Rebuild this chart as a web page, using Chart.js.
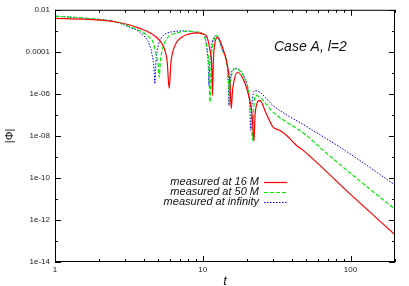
<!DOCTYPE html>
<html lang="en">
<head>
    <meta charset="UTF-8">
    <title>Case A, l=2</title>
    <script src="https://cdn.jsdelivr.net/npm/chart.js"></script>
    <style>
        body { margin: 0; background: #fff; }
    </style>
</head>
<body>

<canvas id="phiChart" width="409" height="286"></canvas>

<script>
    // values
    const t16 = [1, 1.6, 2.54, 3.21, 3.75, 4.38, 5.12, 5.5, 5.75, 5.92, 6.1, 6.3, 6.64, 7.2, 7.76, 9.07, 10.0, 10.6, 11.2, 11.5, 11.63, 11.8, 12.1, 12.6, 13.8, 14.9, 15.3, 15.6, 15.9, 16.3, 17.2, 19.2, 20.8, 21.6, 22.2, 22.6, 23.3, 24.3, 26.9, 29.9, 33.1, 36.8, 43, 47.6, 100, 200];
    const phi16 = [3.95e-3, 3.55e-3, 2.7e-3, 1.9e-3, 1.3e-3, 8.1e-4, 3.4e-4, 1.4e-4, 3.2e-5, 1.8e-6, 3.5e-5, 1.15e-4, 2.8e-4, 4.9e-4, 6.5e-4, 7.9e-4, 7.2e-4, 5.6e-4, 1.15e-4, 2.2e-5, 8.4e-7, 3.8e-5, 2.8e-4, 4.9e-4, 1.2e-4, 1.3e-5, 2.5e-6, 2.0e-7, 1.45e-6, 4.4e-6, 1.07e-5, 3.5e-6, 4.9e-7, 9.5e-8, 5.5e-9, 9.5e-8, 3.5e-7, 4.9e-7, 1.14e-7, 2.64e-8, 1.84e-8, 1.07e-8, 3.6e-9, 2.1e-9, 1.66e-11, 1.95e-13];

    const t50 = [1, 1.6, 2.54, 3.21, 3.75, 4.38, 4.62, 4.85, 5.0, 5.07, 5.17, 5.35, 5.69, 6.1, 6.64, 7.4, 8.17, 9.2, 10.05, 10.7, 11.0, 11.2, 11.4, 11.8, 12.4, 13.6, 14.6, 15.0, 15.2, 15.4, 15.8, 16.7, 19.2, 20.5, 21.2, 21.7, 22.1, 22.7, 24.3, 29.9, 50.2, 65, 100, 200];
    const phi50 = [5.0e-3, 4.0e-3, 2.7e-3, 1.6e-3, 1.0e-3, 4.7e-4, 2.8e-4, 6.6e-5, 2.2e-5, 6.2e-6, 3.8e-5, 1.4e-4, 4.1e-4, 6.3e-4, 8.0e-4, 9.3e-4, 9.5e-4, 8.7e-4, 7.0e-4, 1.4e-4, 2.2e-5, 4.1e-7, 3.1e-5, 2.7e-4, 5.9e-4, 1.15e-4, 2.5e-5, 2.5e-6, 2.8e-7, 2.5e-6, 1.0e-5, 1.6e-5, 5.4e-6, 1.2e-6, 1.6e-7, 6.2e-9, 1.6e-7, 8.4e-7, 7.0e-7, 1.36e-7, 1.07e-8, 2.1e-9, 1.66e-10, 3.2e-12];

    const tInf = [1, 1.6, 2.54, 3.21, 3.75, 4.38, 4.55, 4.68, 4.74, 4.82, 5.0, 5.39, 5.8, 6.3, 7.2, 8.17, 9.2, 10.3, 10.7, 10.9, 11.0, 11.15, 11.6, 12.4, 13.6, 14.6, 14.9, 15.06, 15.25, 15.6, 16.7, 19.2, 20.3, 20.8, 21.1, 21.5, 22.5, 24.3, 29.9, 50.2, 91, 200];
    const phiInf = [5.0e-3, 4.0e-3, 2.7e-3, 1.45e-3, 8.4e-4, 2.0e-4, 6.6e-5, 1.6e-5, 3.0e-6, 3.1e-5, 2.0e-4, 5.9e-4, 8.0e-4, 9.1e-4, 9.9e-4, 9.6e-4, 8.2e-4, 5.9e-4, 1.15e-4, 2.2e-5, 2.5e-6, 3.1e-5, 2.8e-4, 5.9e-4, 1.15e-4, 2.5e-5, 2.5e-6, 2.8e-7, 2.5e-6, 1.0e-5, 1.6e-5, 6.0e-6, 1.45e-6, 2.8e-7, 1.84e-8, 2.8e-7, 1.45e-6, 1.2e-6, 2.8e-7, 2.85e-8, 2.1e-9, 4.6e-11];

    const seriesLabels = ['measured at 16 M', 'measured at 50 M', 'measured at infinity'];

    const xTickValues = [1, 10, 100];
    const xTickLabels = ['1', '10', '100'];
    const yTickValues = [1e-14, 1e-12, 1e-10, 1e-8, 1e-6, 1e-4, 1e-2];
    const yTickLabels = ['1e-14', '1e-12', '1e-10', '1e-08', '1e-06', '0.0001', '0.01'];

    const FONT = '"Liberation Sans", Arial, sans-serif';

    function toPoints(xs, ys) {
        return xs.map((x, i) => ({ x: x, y: ys[i] }));
    }

    function labelFor(values, labels, v) {
        const i = values.findIndex(tv => Math.abs(Math.log10(tv) - Math.log10(v)) < 1e-6);
        return i >= 0 ? labels[i] : '';
    }

    // gnuplot-like frame, inward ticks, key and label
    const decorPlugin = {
        id: 'decor',
        afterDatasetsDraw(chart) {
            const ctx = chart.ctx;
            const a = chart.chartArea;
            const xs = chart.scales.x;
            const ys = chart.scales.y;
            ctx.save();
            ctx.strokeStyle = '#000';
            ctx.lineWidth = 1;
            ctx.setLineDash([]);
            ctx.strokeRect(a.left + 0.5, a.top + 0.5, a.right - a.left - 1, a.bottom - a.top - 1);

            ctx.beginPath();
            for (let d = 0; d <= 2; d++) {
                for (let m = 1; m <= 9; m++) {
                    const v = m * Math.pow(10, d);
                    if (v > 200) break;
                    const px = Math.round(xs.getPixelForValue(v)) + 0.5;
                    const len = m === 1 ? 6 : 3;
                    ctx.moveTo(px, a.bottom); ctx.lineTo(px, a.bottom - len);
                    ctx.moveTo(px, a.top); ctx.lineTo(px, a.top + len);
                }
            }
            for (let d = -14; d <= -2; d++) {
                const py = Math.round(ys.getPixelForValue(Math.pow(10, d))) + 0.5;
                const len = d % 2 === 0 ? 6 : 3;
                ctx.moveTo(a.left, py); ctx.lineTo(a.left + len, py);
                ctx.moveTo(a.right, py); ctx.lineTo(a.right - len, py);
            }
            ctx.stroke();

            // key
            ctx.font = 'italic 11px ' + FONT;
            ctx.textAlign = 'right';
            ctx.textBaseline = 'middle';
            chart.data.datasets.forEach((ds, i) => {
                const y = 182 + i * 10;
                ctx.fillStyle = '#111';
                ctx.fillText(ds.label, 259, y);
                ctx.strokeStyle = ds.borderColor;
                ctx.lineWidth = ds.borderWidth;
                ctx.setLineDash(ds.borderDash || []);
                ctx.beginPath();
                ctx.moveTo(264, y + 0.5);
                ctx.lineTo(287, y + 0.5);
                ctx.stroke();
            });

            ctx.setLineDash([]);
            ctx.fillStyle = '#111';
            ctx.textAlign = 'left';
            ctx.font = 'italic 14px ' + FONT;
            ctx.fillText('Case A, l=2', 274, 47);
            ctx.restore();
        }
    };

    function renderChart() {
        const ctx = document.getElementById('phiChart').getContext('2d');
        new Chart(ctx, {
            type: 'line',
            data: {
                datasets: [{
                    label: seriesLabels[0],
                    data: toPoints(t16, phi16),
                    borderColor: '#ff0000',
                    borderWidth: 1.2,
                    pointRadius: 0,
                    fill: false
                }, {
                    label: seriesLabels[1],
                    data: toPoints(t50, phi50),
                    borderColor: '#00ee00',
                    borderWidth: 1.2,
                    borderDash: [4, 2],
                    pointRadius: 0,
                    fill: false
                }, {
                    label: seriesLabels[2],
                    data: toPoints(tInf, phiInf),
                    borderColor: '#0000ff',
                    borderWidth: 1,
                    borderDash: [1.5, 1.5],
                    pointRadius: 0,
                    fill: false
                }]
            },
            options: {
                responsive: false,
                animation: false,
                devicePixelRatio: 1,
                cubicInterpolationMode: 'monotone',
                layout: { padding: { top: 9, right: 14, left: 0, bottom: 0 } },
                plugins: {
                    legend: { display: false },
                    tooltip: { enabled: false }
                },
                scales: {
                    x: {
                        type: 'logarithmic',
                        min: 1,
                        max: 200,
                        grid: { display: false, drawTicks: false },
                        border: { display: false },
                        afterBuildTicks: s => { s.ticks = xTickValues.map(v => ({ value: v })); },
                        afterFit: s => { s.height = 24; },
                        ticks: {
                            autoSkip: false,
                            maxRotation: 0,
                            padding: 3,
                            color: '#222',
                            font: { family: FONT, size: 8 },
                            callback: v => labelFor(xTickValues, xTickLabels, v)
                        },
                        title: {
                            display: true,
                            text: 't',
                            color: '#111',
                            padding: { top: 0, bottom: -2 },
                            font: { family: FONT, size: 13, style: 'italic', lineHeight: 1 }
                        }
                    },
                    y: {
                        type: 'logarithmic',
                        min: 1e-14,
                        max: 1e-2,
                        grid: { display: false, drawTicks: false },
                        border: { display: false },
                        afterBuildTicks: s => { s.ticks = yTickValues.map(v => ({ value: v })); },
                        afterFit: s => { s.width = 55; },
                        ticks: {
                            autoSkip: false,
                            padding: 5,
                            color: '#222',
                            font: { family: FONT, size: 8 },
                            callback: v => labelFor(yTickValues, yTickLabels, v)
                        },
                        title: {
                            display: true,
                            text: '|Φ|',
                            color: '#111',
                            padding: { top: 4, bottom: 0 },
                            font: { family: FONT, size: 11, lineHeight: 1 }
                        }
                    }
                }
            },
            plugins: [decorPlugin]
        });
    }

    renderChart();
</script>

</body>
</html>
